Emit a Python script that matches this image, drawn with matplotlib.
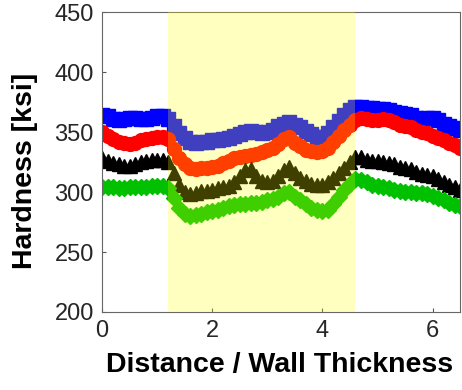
import numpy as np
import matplotlib.pyplot as plt

plt.rcParams['font.family'] = ['Liberation Sans', 'DejaVu Sans']

# distance / wall thickness, step 0.1
x = np.round(np.arange(0, 6.51, 0.1), 2)

blue = [364, 363, 361, 360, 361, 362, 362, 361, 361, 362, 363, 363, 361,
        355, 349, 345, 342, 341, 342, 342, 343, 343, 344, 345,
        347, 348, 350, 351, 350, 349, 350, 352, 355, 357, 358, 356, 354,
        351, 348, 346, 346, 349, 354, 359, 364, 368, 371,
        371, 370, 370, 369, 369, 368, 367, 366, 365, 364, 362, 361, 362, 362, 360, 357, 355, 353, 352]
red = [350, 347, 344, 342, 341, 340, 341, 343, 344, 345, 346, 346, 344,
       336, 328, 323, 320, 319, 320, 320, 321, 322, 324, 326,
       328, 329, 330, 331, 332, 333, 335, 337, 340, 344, 346, 341, 338,
       335, 334, 333, 334, 337, 342, 347, 352, 356, 360,
       362, 361, 360, 360, 361, 360, 358, 356, 355, 354, 352, 350, 349, 347, 345, 343, 341, 339, 337]
black = [328, 326, 324, 323, 322, 322, 323, 325, 326, 327, 327, 327, 325,
         316, 306, 300, 298, 299, 301, 301, 302, 303, 304, 305,
         308, 313, 318, 319, 313, 309, 308, 309, 313, 318, 321, 316, 312,
         309, 307, 306, 306, 308, 312, 316, 320, 325, 329,
         329, 327, 326, 326, 325, 324, 323, 321, 320, 319, 317, 315, 314, 313, 311, 308, 306, 304, 302]
green = [304, 304, 304, 303, 303, 304, 304, 304, 304, 305, 305, 305, 303,
         295, 287, 282, 280, 281, 282, 283, 284, 285, 287, 288,
         289, 290, 290, 291, 291, 292, 293, 294, 296, 299, 300, 296, 293,
         290, 287, 285, 284, 285, 290, 296, 302, 307, 311,
         310, 308, 306, 305, 304, 303, 302, 301, 300, 300, 299, 299, 298, 297, 295, 293, 291, 289, 288]

span = (1.2, 4.6)

fig = plt.figure(figsize=(4.62, 3.9), dpi=100)
ax = fig.add_axes([0.221, 0.2, 0.775, 0.769])

ax.plot(x, blue, 's', color='#0000ff', ms=10)
ax.plot(x, red, 'o', color='#ff0000', ms=10)
ax.plot(x, black, '^', color='black', ms=10)
ax.plot(x, green, 'D', color='#00c000', ms=8.5)

ax.axvspan(span[0], span[1], color='yellow', alpha=0.25, lw=0, zorder=5)

ax.set_xlim(0, 6.5)
ax.set_ylim(200, 450)
ax.set_xticks([0, 2, 4, 6])
ax.set_yticks(np.arange(200, 451, 50))
ax.tick_params(direction='in', length=3, labelsize=17, colors='#555555',
               labelcolor='#262626', pad=6)
for s in ax.spines.values():
    s.set_color('#666666')
    s.set_linewidth(0.8)

ax.set_xlabel('Distance / Wall Thickness', fontsize=20.5, fontweight='bold')
ax.set_ylabel('Hardness [ksi]', fontsize=20.5, fontweight='bold')
ax.xaxis.set_label_coords(0.497, -0.135)
ax.yaxis.set_label_coords(-0.178, 0.47)

fig.savefig('out.png', dpi=100)
